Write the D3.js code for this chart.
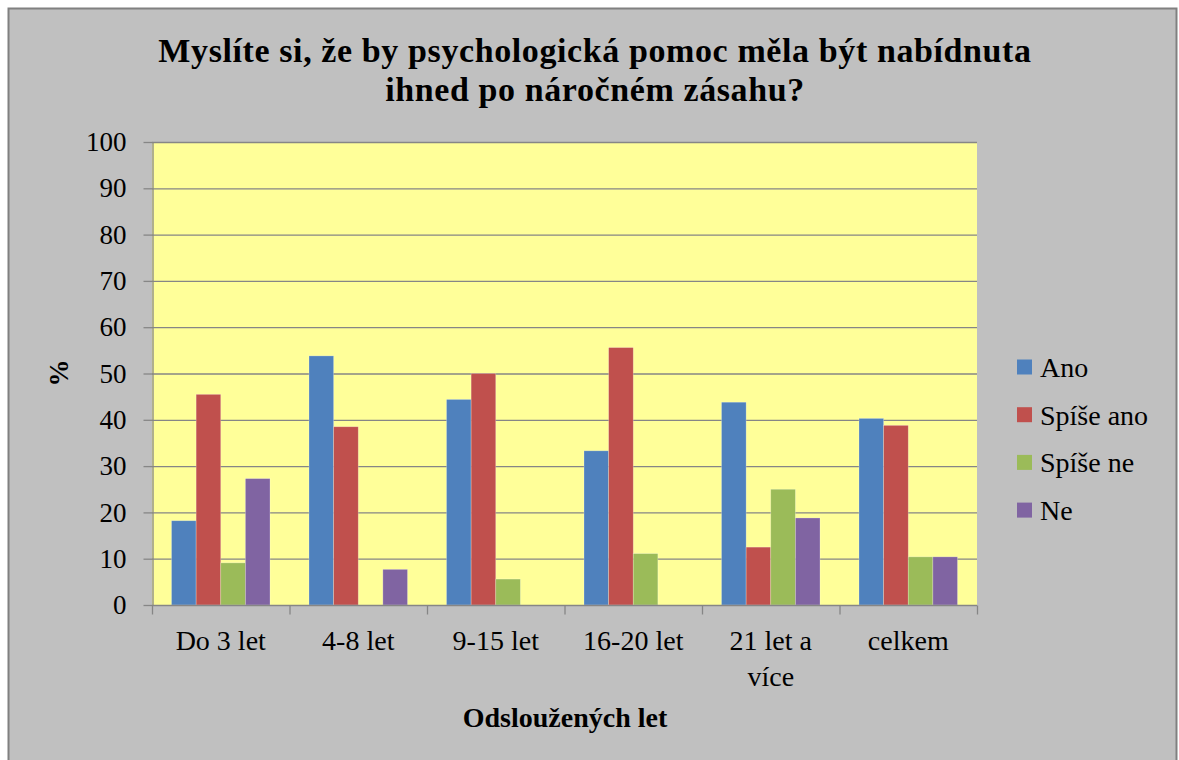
<!DOCTYPE html>
<html>
<head>
<meta charset="utf-8">
<script src="https://d3js.org/d3.v7.min.js"></script>
<style>
  body { margin: 0; background: white; }
  svg text { font-family: "Liberation Serif", "Times New Roman", Times, serif; fill: #000; }
</style>
</head>
<body>
<svg id="canvas" width="1179" height="760"></svg>
<script>
// data
const categories = [['Do 3 let'], ['4-8 let'], ['9-15 let'], ['16-20 let'], ['21 let a', 'více'], ['celkem']]
const seriesNames = ['Ano', 'Spíše ano', 'Spíše ne', 'Ne']
const ano = [18.2, 53.8, 44.4, 33.3, 43.8, 40.3]
const spiseAno = [45.5, 38.5, 50.0, 55.6, 12.5, 38.8]
const spiseNe = [9.1, 0, 5.6, 11.1, 25.0, 10.4]
const ne = [27.3, 7.7, 0, 0, 18.8, 10.4]
const yTicks = [0, 10, 20, 30, 40, 50, 60, 70, 80, 90, 100]

const colors = ['#4F81BD', '#C0504D', '#9BBB59', '#8064A2']
const values = [ano, spiseAno, spiseNe, ne]
const serif = '"Liberation Serif", "Times New Roman", Times, serif'

const svg = d3.select('#canvas')

// outer chart area
svg.append('rect')
  .attr('x', 8.5).attr('y', 8.5)
  .attr('width', 1168).attr('height', 770)
  .attr('fill', '#C0C0C0')
  .attr('stroke', '#808080').attr('stroke-width', 2)

const plot = { left: 152, top: 142, right: 977, bottom: 605 }

const x0 = d3.scaleBand()
  .domain(d3.range(categories.length))
  .range([plot.left, plot.right])
const gap = 19.5
const x1 = d3.scaleBand()
  .domain(d3.range(seriesNames.length))
  .range([gap, x0.bandwidth() - gap])
const y = d3.scaleLinear().domain([0, 100]).range([plot.bottom, plot.top])

svg.append('rect')
  .attr('x', plot.left).attr('y', plot.top)
  .attr('width', plot.right - plot.left).attr('height', plot.bottom - plot.top)
  .attr('fill', '#FFFF99')

// gridlines
svg.append('g').selectAll('line')
  .data(yTicks.filter(d => d > 0))
  .join('line')
  .attr('x1', plot.left).attr('x2', plot.right)
  .attr('y1', d => y(d) + 0.5).attr('y2', d => y(d) + 0.5)
  .attr('stroke', '#868686').attr('stroke-width', 1.3)

// bars
const groups = svg.append('g').selectAll('g')
  .data(values)
  .join('g')
  .attr('fill', (d, i) => colors[i])

groups.each(function (vals, s) {
  d3.select(this).selectAll('rect')
    .data(vals)
    .join('rect')
    .attr('x', (d, i) => x0(i) + x1(s))
    .attr('y', d => y(d))
    .attr('width', x1.bandwidth())
    .attr('height', d => y(0) - y(d))
    .attr('stroke', d => d > 0 ? 'rgba(255,255,255,0.35)' : 'none')
    .attr('stroke-width', 0.7)
})

// y axis
const yAxis = d3.axisLeft(y).tickValues(yTicks).tickSize(9).tickPadding(17)
const gy = svg.append('g')
  .attr('transform', `translate(${plot.left + 0.5},0)`)
  .call(yAxis)
  .attr('font-family', serif)
gy.selectAll('line, path').attr('stroke', '#868686').attr('stroke-width', 1.3)
gy.selectAll('text')
  .style('font-family', serif)
  .style('font-size', '27px')
  .attr('fill', '#000')
gy.select('.domain').attr('d', `M0.5,${plot.top}V${plot.bottom}`)

// x axis
const xAxis = d3.axisBottom(d3.scaleLinear().domain([0, categories.length]).range([plot.left, plot.right]))
  .tickValues(d3.range(categories.length + 1)).tickSize(9).tickFormat('')
const gx = svg.append('g')
  .attr('transform', `translate(0,${plot.bottom + 0.5})`)
  .call(xAxis)
gx.selectAll('line, path').attr('stroke', '#868686').attr('stroke-width', 1.3)
gx.select('.domain').attr('d', `M${plot.left},0H${plot.right}`)

svg.append('g').selectAll('text')
  .data(categories)
  .join('text')
  .attr('x', (d, i) => x0(i) + x0.bandwidth() / 2)
  .attr('y', 650)
  .attr('text-anchor', 'middle')
  .style('font-family', serif)
  .style('font-size', '28px')
  .each(function (lines) {
    d3.select(this).selectAll('tspan')
      .data(lines)
      .join('tspan')
      .attr('x', d3.select(this).attr('x'))
      .attr('dy', (d, i) => i === 0 ? 0 : 36)
      .text(d => d)
  })

// titles
svg.append('text')
  .attr('x', 595).attr('y', 62)
  .attr('text-anchor', 'middle')
  .style('font-family', serif)
  .style('font-size', '34px').style('font-weight', 'bold')
  .style('letter-spacing', '0.6px')
  .selectAll('tspan')
  .data(['Myslíte si, že by psychologická pomoc měla být nabídnuta', 'ihned po náročném zásahu?'])
  .join('tspan')
  .attr('x', 595)
  .attr('dy', (d, i) => i === 0 ? 0 : 39)
  .text(d => d)

svg.append('text')
  .attr('transform', 'translate(68,373) rotate(-90)')
  .attr('text-anchor', 'middle')
  .style('font-family', serif)
  .style('font-size', '27px').style('font-weight', 'bold')
  .text('%')

svg.append('text')
  .attr('x', 565).attr('y', 727)
  .attr('text-anchor', 'middle')
  .style('font-family', serif)
  .style('font-size', '28px').style('font-weight', 'bold')
  .text('Odsloužených let')

// legend
const legend = svg.append('g').selectAll('g')
  .data(seriesNames)
  .join('g')
  .attr('transform', (d, i) => `translate(1017,${367 + i * 47.7})`)
legend.append('rect')
  .attr('x', 0).attr('y', -7.5)
  .attr('width', 15).attr('height', 15)
  .attr('fill', (d, i) => colors[i])
legend.append('text')
  .attr('x', 23).attr('y', 10)
  .style('font-family', serif)
  .style('font-size', '28px')
  .text(d => d)
</script>
</body>
</html>
